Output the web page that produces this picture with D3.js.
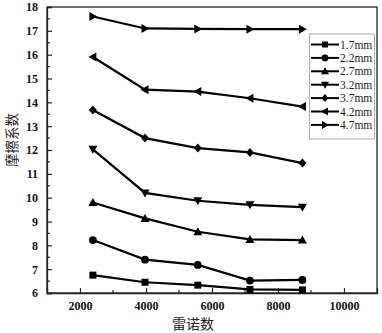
<!DOCTYPE html>
<html><head><meta charset="utf-8">
<script src="https://cdn.jsdelivr.net/npm/d3@7/dist/d3.min.js"></script>
<style>body{margin:0;background:#fff}svg{display:block}</style>
</head><body>
<svg id="c" width="382" height="333"></svg>
<script>
const reynolds = [2390, 3970, 5570, 7150, 8740];
const seriesNames = ["1.7mm","2.2mm","2.7mm","3.2mm","3.7mm","4.2mm","4.7mm"];
const s17 = [6.75, 6.45, 6.33, 6.15, 6.13];
const s22 = [8.22, 7.40, 7.18, 6.52, 6.55];
const s27 = [9.80, 9.13, 8.57, 8.25, 8.22];
const s32 = [12.03, 10.20, 9.87, 9.70, 9.60];
const s37 = [13.68, 12.50, 12.08, 11.90, 11.45];
const s42 = [15.90, 14.53, 14.45, 14.17, 13.82];
const s47 = [17.60, 17.10, 17.08, 17.07, 17.07];
const seriesValues = [s17, s22, s27, s32, s37, s42, s47];
const markers = ["square","circle","up","down","diamond","left","right"];
const xTicks = [2000, 4000, 6000, 8000, 10000];
const yTicks = [6,7,8,9,10,11,12,13,14,15,16,17,18];

const svg = d3.select("#c");
const L = 47, R = 377, T = 7, B = 293;
const x = d3.scaleLinear().domain([1000, 11000]).range([L, R]);
const y = d3.scaleLinear().domain([6, 18]).range([B, T]);
const font = "'Liberation Serif','Times New Roman',serif";

function markerPath(type, s) {
  const h = s / 2;
  switch (type) {
    case "square": return `M${-h+0.5},${-h+0.5}h${s-1}v${s-1}h${-(s-1)}Z`;
    case "circle": return d3.symbol(d3.symbolCircle, s*s*0.75)();
    case "up": return `M0,${-h-0.5}L${h+0.5},${h-0.5}L${-h-0.5},${h-0.5}Z`;
    case "down": return `M0,${h+0.5}L${h+0.5},${-h+0.5}L${-h-0.5},${-h+0.5}Z`;
    case "diamond": return `M0,${-h-0.5}L${h},0L0,${h+0.5}L${-h},0Z`;
    case "left": return `M${-h-0.5},0L${h-0.5},${-h-0.5}L${h-0.5},${h+0.5}Z`;
    case "right": return `M${h+0.5},0L${-h+0.5},${-h-0.5}L${-h+0.5},${h+0.5}Z`;
  }
}

// frame
svg.append("rect").attr("x", L).attr("y", T).attr("width", R-L).attr("height", B-T)
  .attr("fill", "none").attr("stroke", "#222").attr("stroke-width", 1.3);

// x axis
const xAxis = d3.axisBottom(x).tickValues(xTicks).tickSize(-5).tickPadding(8).tickFormat(d3.format("d"));
const gx = svg.append("g").attr("transform", `translate(0,${B})`).call(xAxis);
gx.select(".domain").attr("stroke", "#222").attr("stroke-width", 1.3);
gx.selectAll(".tick line").attr("stroke", "#222").attr("stroke-width", 1.2);
gx.selectAll("text").attr("font-family", font).attr("font-weight", "bold").attr("font-size", 12).attr("fill", "#111");
const xMinor = d3.range(1000, 11001, 1000).filter(v => v % 2000 !== 0 && v > 1000 && v < 11000);
svg.append("g").selectAll("line").data(xMinor).join("line")
  .attr("x1", d => x(d)).attr("x2", d => x(d)).attr("y1", B).attr("y2", B-3)
  .attr("stroke", "#222").attr("stroke-width", 1.2);

// y axis
const yAxis = d3.axisLeft(y).tickValues(yTicks).tickSize(-5).tickPadding(9).tickFormat(d3.format("d"));
const gy = svg.append("g").attr("transform", `translate(${L},0)`).call(yAxis);
gy.select(".domain").attr("stroke", "#222").attr("stroke-width", 1.3);
gy.selectAll(".tick line").attr("stroke", "#222").attr("stroke-width", 1.2);
gy.selectAll("text").attr("font-family", font).attr("font-weight", "bold").attr("font-size", 12).attr("fill", "#111");
const yMinor = d3.range(6.5, 18, 1);
svg.append("g").selectAll("line").data(yMinor).join("line")
  .attr("x1", L).attr("x2", L+3).attr("y1", d => y(d)).attr("y2", d => y(d))
  .attr("stroke", "#222").attr("stroke-width", 1.2);

// titles
svg.append("text").attr("x", 193).attr("y", 329).attr("text-anchor", "middle")
  .attr("font-family", "'Noto Sans CJK SC',sans-serif").attr("font-size", 14).attr("fill", "#222").text("雷诺数");
svg.append("text").attr("transform", `translate(17,140) rotate(-90)`).attr("text-anchor", "middle")
  .attr("font-family", "'Noto Sans CJK SC',sans-serif").attr("font-size", 13.5).attr("fill", "#222").text("摩擦系数");

// series
const line = d3.line().x((d, i) => x(reynolds[i])).y(d => y(d));
seriesValues.forEach((vals, k) => {
  const g = svg.append("g");
  g.append("path").datum(vals).attr("d", line).attr("fill", "none").attr("stroke", "#000").attr("stroke-width", 2.2);
  g.selectAll("path.m").data(vals).join("path").attr("class", "m")
    .attr("transform", (d, i) => `translate(${x(reynolds[i])},${y(d)})`)
    .attr("d", markerPath(markers[k], 8)).attr("fill", "#000");
});

// legend
const lg = svg.append("g");
lg.append("rect").attr("x", 309.5).attr("y", 34).attr("width", 65).attr("height", 105)
  .attr("fill", "#fff").attr("stroke", "#999").attr("stroke-width", 0.8);
seriesNames.forEach((name, k) => {
  const yy = 44.5 + k * 13.4;
  lg.append("line").attr("x1", 311).attr("x2", 339).attr("y1", yy).attr("y2", yy).attr("stroke", "#000").attr("stroke-width", 2);
  lg.append("path").attr("transform", `translate(325,${yy})`).attr("d", markerPath(markers[k], 7)).attr("fill", "#000");
  lg.append("text").attr("x", 340).attr("y", yy + 4).attr("font-family", font).attr("font-size", 11.5).attr("fill", "#222").text(name);
});
</script>
</body></html>
